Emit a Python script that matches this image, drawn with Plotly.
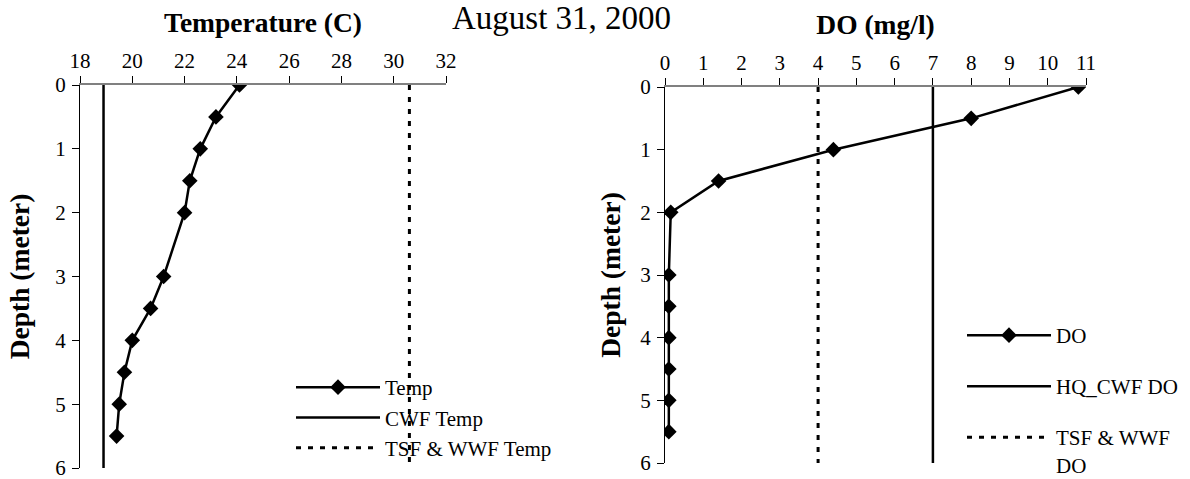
import plotly.graph_objects as go

# ---- data ----
depth = [0, 0.5, 1, 1.5, 2, 3, 3.5, 4, 4.5, 5, 5.5]
temp = [24.1, 23.2, 22.6, 22.2, 22.0, 21.2, 20.7, 20.0, 19.7, 19.5, 19.4]
do_vals = [10.8, 8.0, 4.4, 1.4, 0.15, 0.1, 0.1, 0.1, 0.1, 0.1, 0.1]
std_depth = [0, 6]
cwf_temp = 18.9
tsf_wwf_temp = 30.6
hq_cwf_do = 7
tsf_wwf_do = 4
temp_ticks = [18, 20, 22, 24, 26, 28, 30, 32]
do_ticks = list(range(0, 12))
depth_ticks = [0, 1, 2, 3, 4, 5, 6]

W, H = 1190, 479
FONT = "Liberation Serif"
DASH = "5px,7px"

def px_x(p):
    return p / W

def px_y(p):
    return 1 - p / H

fig = go.Figure()

# Left chart
fig.add_trace(go.Scatter(x=temp, y=depth, name="Temp", mode="lines+markers",
                         line=dict(color="black", width=2.5),
                         marker=dict(symbol="diamond", size=12, color="black"),
                         xaxis="x", yaxis="y", legend="legend", legendgroup="a"))
fig.add_trace(go.Scatter(x=[cwf_temp] * 2, y=std_depth, name="CWF Temp", mode="lines",
                         line=dict(color="black", width=2.5),
                         xaxis="x", yaxis="y", legend="legend", legendgroup="b"))
fig.add_trace(go.Scatter(x=[tsf_wwf_temp] * 2, y=std_depth, name="TSF & WWF Temp", mode="lines",
                         line=dict(color="black", width=3, dash=DASH),
                         xaxis="x", yaxis="y", legend="legend", legendgroup="c"))

# Right chart
fig.add_trace(go.Scatter(x=do_vals, y=depth, name="DO", mode="lines+markers",
                         line=dict(color="black", width=2.5),
                         marker=dict(symbol="diamond", size=12, color="black"),
                         xaxis="x2", yaxis="y2", legend="legend2"))
fig.add_trace(go.Scatter(x=[hq_cwf_do] * 2, y=std_depth, name="HQ_CWF DO", mode="lines",
                         line=dict(color="black", width=2.5),
                         xaxis="x2", yaxis="y2", legend="legend3"))
fig.add_trace(go.Scatter(x=[tsf_wwf_do] * 2, y=std_depth, name="TSF & WWF<br>DO", mode="lines",
                         line=dict(color="black", width=3, dash=DASH),
                         xaxis="x2", yaxis="y2", legend="legend4"))

tickfont = dict(family=FONT, size=21, color="black")
titlefont = dict(family=FONT, size=27.5, color="black", weight="bold")
legfont = dict(family=FONT, size=21, color="black")

def xaxis_cfg(rng, ticks, dom, anchor):
    return dict(domain=dom, range=rng, tickvals=ticks, side="top", anchor=anchor,
                showline=True, linecolor="#808080", linewidth=1.5,
                ticks="outside", ticklen=7, tickcolor="black", tickwidth=1,
                showgrid=False, zeroline=False, tickfont=tickfont,
                ticklabelstandoff=0, ticklabeloverflow="allow",
                automargin=False, fixedrange=True)

def yaxis_cfg(dom, anchor, standoff):
    return dict(domain=dom, range=[6, 0], tickvals=depth_ticks, anchor=anchor,
                showline=True, linecolor="black", linewidth=1,
                ticks="outside", ticklen=7, tickcolor="black", tickwidth=1,
                showgrid=False, zeroline=False, tickfont=tickfont,
                ticklabelstandoff=2, ticklabeloverflow="allow", automargin=False,
                title=dict(text="Depth (meter)", font=titlefont, standoff=standoff),
                fixedrange=True)

def leg(xp, yp, gap=0, valign="middle"):
    return dict(x=px_x(xp), y=px_y(yp), xanchor="left", yanchor="top",
                bgcolor="rgba(0,0,0,0)", borderwidth=0, tracegroupgap=gap,
                font=legfont, itemwidth=84, valign=valign)

fig.update_layout(
    width=W, height=H, autosize=False,
    margin=dict(l=0, r=0, t=0, b=0, autoexpand=False),
    paper_bgcolor="white", plot_bgcolor="white",
    font=dict(family=FONT, color="black"),
    showlegend=True,
    xaxis=dict(**xaxis_cfg([18, 32], temp_ticks, [px_x(80), px_x(446)], "y"),
               title=dict(text="Temperature (C)", font=titlefont, standoff=8)),
    yaxis=yaxis_cfg([px_y(468), px_y(85)], "x", 17),
    xaxis2=dict(**xaxis_cfg([0, 11], do_ticks, [px_x(665), px_x(1086)], "y2"),
                title=dict(text="DO (mg/l)", font=titlefont, standoff=8)),
    yaxis2=yaxis_cfg([px_y(463), px_y(87)], "x2", 11),
    legend=leg(291, 367, gap=0),
    legend2=leg(962, 315),
    legend3=leg(962, 366),
    legend4=leg(962, 417, valign="top"),
    annotations=[dict(text="August 31, 2000", x=px_x(561), y=1,
                      xref="paper", yref="paper", xanchor="center", yanchor="top",
                      showarrow=False, yshift=2,
                      font=dict(family=FONT, size=33, color="black"))],
)

fig.write_html("out.html", config={"displayModeBar": False},
               post_script="document.body.style.margin='0';document.body.style.overflow='hidden';")
